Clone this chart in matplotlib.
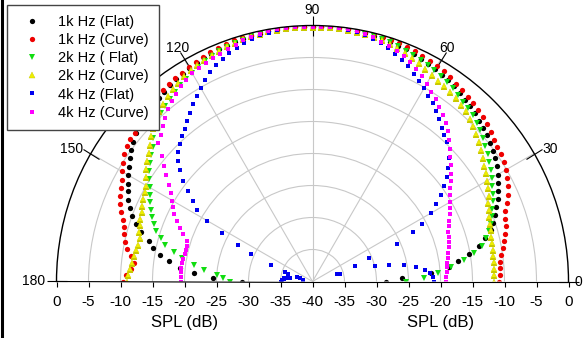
import numpy as np
import matplotlib
matplotlib.use("Agg")
import matplotlib.pyplot as plt
from matplotlib.lines import Line2D

plt.rcParams["font.family"] = ["Liberation Sans", "DejaVu Sans"]

# angle grid (deg), one reading every 2 degrees
angles = np.arange(0, 181, 2)

spl_1k_flat = [
    -28.5, -26.0, -21.5, -18.5, -17.0, -15.2, -13.4, -12.2, -11.0, -10.3,
    -9.7, -9.0, -8.3, -7.7, -7.2, -6.6, -6.0, -5.6, -5.2, -4.8,
    -4.4, -4.1, -3.8, -3.5, -3.2, -2.9, -2.6, -2.3, -2.1, -1.9,
    -1.7, -1.5, -1.3, -1.1, -0.9, -0.8, -0.6, -0.5, -0.4, -0.3,
    -0.3, -0.2, -0.2, -0.2, -0.2, -0.2, -0.2, -0.2, -0.2, -0.3,
    -0.3, -0.4, -0.5, -0.6, -0.7, -0.8, -0.9, -1.1, -1.2, -1.4,
    -1.5, -1.7, -1.9, -2.1, -2.4, -2.6, -2.9, -3.1, -3.4, -3.7,
    -4.0, -4.5, -5.0, -5.6, -6.2, -6.8, -7.4, -7.9, -8.5, -9.2,
    -10.0, -11.0, -12.2, -13.6, -14.5, -15.8, -17.3, -19.2, -21.5, -24.5,
    -29.0,
]
spl_1k_curve = [
    -10.8, -10.7, -10.6, -10.5, -10.2, -9.8, -9.4, -9.0, -8.6, -8.3,
    -8.0, -7.3, -6.6, -6.0, -5.5, -5.1, -4.8, -4.5, -4.3, -4.0,
    -3.6, -3.3, -3.0, -2.7, -2.5, -2.3, -2.0, -1.8, -1.5, -1.3,
    -1.1, -0.9, -0.8, -0.6, -0.5, -0.4, -0.3, -0.3, -0.2, -0.2,
    -0.2, -0.2, -0.2, -0.2, -0.2, -0.2, -0.2, -0.2, -0.2, -0.2,
    -0.2, -0.2, -0.3, -0.3, -0.4, -0.5, -0.6, -0.8, -0.9, -1.1,
    -1.3, -1.5, -1.7, -1.9, -2.1, -2.3, -2.7, -3.0, -3.3, -3.6,
    -3.8, -3.9, -4.1, -4.5, -5.0, -5.6, -6.2, -6.7, -7.1, -7.6,
    -8.2, -8.8, -9.3, -9.6, -10.0, -10.6, -11.3, -11.9, -11.6, -10.8,
    -10.4,
]
spl_2k_flat = [
    -25.4, -22.5, -20.4, -18.2, -16.1, -14.3, -13.0, -12.0, -11.3, -10.7,
    -10.2, -9.7, -9.2, -8.7, -8.2, -7.7, -7.2, -6.7, -6.2, -5.7,
    -5.2, -4.7, -4.3, -3.9, -3.6, -3.3, -3.0, -2.7, -2.4, -2.2,
    -1.9, -1.7, -1.5, -1.3, -1.1, -0.9, -0.7, -0.6, -0.5, -0.4,
    -0.3, -0.2, -0.2, -0.2, -0.2, -0.2, -0.2, -0.2, -0.2, -0.2,
    -0.3, -0.4, -0.5, -0.7, -0.8, -1.0, -1.2, -1.4, -1.7, -2.0,
    -2.3, -2.6, -3.0, -3.4, -3.8, -4.2, -4.6, -5.1, -5.8, -6.5,
    -7.4, -8.0, -8.6, -9.2, -9.9, -10.6, -11.2, -11.8, -12.4, -13.0,
    -13.6, -14.3, -15.3, -16.2, -17.8, -19.3, -21.3, -23.0, -25.0, -26.0,
    -27.1,
]
spl_2k_curve = [
    -11.6, -11.6, -11.6, -11.5, -11.5, -11.4, -11.3, -11.2, -11.0, -10.8,
    -10.6, -10.3, -9.9, -9.4, -9.0, -8.6, -8.1, -7.6, -7.1, -6.6,
    -6.1, -5.6, -5.1, -4.6, -4.2, -3.9, -3.6, -3.4, -3.2, -3.0,
    -2.7, -2.4, -2.1, -1.8, -1.5, -1.2, -1.0, -0.8, -0.6, -0.5,
    -0.4, -0.3, -0.2, -0.2, -0.2, -0.2, -0.2, -0.2, -0.2, -0.3,
    -0.3, -0.4, -0.5, -0.6, -0.8, -0.9, -1.1, -1.3, -1.5, -1.7,
    -1.9, -2.2, -2.5, -2.9, -3.3, -3.7, -4.2, -4.8, -5.4, -6.1,
    -6.8, -7.5, -8.1, -8.7, -9.3, -10.0, -10.3, -10.6, -10.9, -11.2,
    -11.4, -11.6, -11.8, -12.2, -12.2, -12.0, -11.8, -11.6, -11.4, -11.2,
    -11.0,
]
spl_4k_flat = [
    -21.0, -21.2, -21.6, -22.4, -23.6, -25.5, -27.8, -30.0, -35.5, -36.0,
    -33.0, -30.4, -25.5, -22.5, -20.7, -18.7, -17.2, -15.8, -14.6, -13.4,
    -12.3, -11.2, -10.2, -9.7, -9.2, -8.6, -7.8, -7.1, -6.4, -5.8,
    -5.1, -4.6, -3.9, -3.2, -2.6, -2.1, -1.7, -1.3, -0.9, -0.6,
    -0.4, -0.3, -0.2, -0.2, -0.2, -0.2, -0.2, -0.2, -0.2, -0.3,
    -0.5, -0.7, -1.0, -1.3, -1.6, -2.0, -2.5, -3.0, -3.6, -4.3,
    -5.0, -5.8, -6.6, -7.4, -8.2, -8.9, -9.5, -10.1, -10.8, -11.8,
    -13.0, -14.4, -16.0, -17.5, -18.8, -21.0, -24.0, -27.0, -29.5, -33.0,
    -35.5, -36.0, -37.5, -38.0, -38.5, -36.5, -36.0, -35.5, -35.5, -35.2,
    -35.0,
]
spl_4k_curve = [
    -19.1, -19.1, -19.0, -18.9, -18.7, -18.5, -18.3, -18.0, -17.8, -17.6,
    -17.4, -17.0, -16.6, -16.1, -15.6, -15.2, -14.6, -14.0, -13.3, -12.6,
    -11.8, -11.0, -10.1, -9.2, -8.4, -7.6, -6.9, -6.3, -5.6, -5.0,
    -4.3, -3.6, -3.0, -2.5, -2.0, -1.6, -1.3, -1.0, -0.7, -0.5,
    -0.3, -0.2, -0.2, -0.2, -0.2, -0.2, -0.2, -0.2, -0.2, -0.2,
    -0.3, -0.4, -0.6, -0.8, -1.1, -1.4, -1.6, -1.8, -2.0, -2.2,
    -2.4, -2.8, -3.2, -3.8, -4.3, -4.8, -5.6, -6.3, -7.0, -7.6,
    -9.4, -10.6, -11.8, -13.0, -14.0, -14.7, -15.3, -16.0, -16.8, -17.6,
    -18.5, -19.3, -19.6, -19.6, -19.6, -19.5, -19.4, -19.4, -19.4, -19.4,
    -19.4,
]

labels = ["1k Hz (Flat)", "1k Hz (Curve)", "2k Hz ( Flat)",
          "2k Hz (Curve)", "4k Hz (Flat)", "4k Hz (Curve)"]
theta_ticks = [0, 30, 60, 90, 120, 150, 180]

W, H = 584, 338
fig = plt.figure(figsize=(W / 100, H / 100), dpi=100)

# polar half disc: centre (312.5, 281.5) px, radius 256 px
# (the wedge is fitted into a square box and centred vertically)
cx, cy, R = 312.5, 281.5, 256
ax = fig.add_axes([(cx - R) / W, (H - (cy - R / 2) - R) / H, 2 * R / W, 2 * R / H],
                  projection="polar")
ax.set_thetamin(0)
ax.set_thetamax(180)
ax.set_rlim(-40, 0)
ax.set_rticks([-35, -30, -25, -20, -15, -10, -5])
ax.set_yticklabels([])
ax.set_thetagrids(theta_ticks, [""] * len(theta_ticks))
ax.grid(True, color="#c8c8c8", linewidth=0.8)
ax.spines["polar"].set_color("black")
ax.spines["polar"].set_linewidth(1.0)
ax.spines["start"].set_visible(False)
ax.spines["end"].set_visible(False)
ax.spines["inner"].set_visible(False)
ax.tick_params(axis="x", bottom=False, top=True, direction="inout",
               length=7, width=0.8)

# angle labels placed just outside the arc (r > 0 dB)
lab_style = {0: (1.0, "left", "center"), 30: (1.4, "left", "center"),
             60: (2.1, "center", "center"), 90: (2.4, "center", "center"),
             120: (2.1, "center", "center"), 150: (1.4, "right", "center"),
             180: (1.8, "right", "center")}
for a in theta_ticks:
    dr, ha, va = lab_style[a]
    ax.text(np.deg2rad(a), dr, str(a), ha=ha, va=va, fontsize=10, clip_on=False)

th = np.deg2rad(angles)
ax.plot(th, spl_1k_flat, "o", color="black", ms=3.8, mew=0, label=labels[0])
ax.plot(th, spl_1k_curve, "o", color="#ee0000", ms=3.8, mew=0, label=labels[1])
ax.plot(th, spl_2k_flat, "v", color="#11dd11", ms=4.6, mew=0, label=labels[2])
ax.plot(th, spl_2k_curve, "^", color="#eeee00", ms=4.6, mew=0.3, mec="#c8c800",
        label=labels[3])
ax.plot(th, spl_4k_flat, "s", color="#0000ee", ms=3.5, mew=0, label=labels[4])
ax.plot(th, spl_4k_curve, "s", color="#ff00ff", ms=3.5, mew=0, label=labels[5])

# linear SPL axis along the baseline
ax2 = fig.add_axes([(cx - R) / W, (H - cy) / H, 2 * R / W, 0.0001])
ax2.set_xlim(-40, 40)
pos = list(range(-40, 41, 5))
ax2.set_xticks(pos)
ax2.set_xticklabels([str(abs(p) - 40) for p in pos])
ax2.set_yticks([])
for s in ax2.spines.values():
    s.set_visible(False)
ax2.patch.set_visible(False)
ax2.tick_params(axis="x", direction="out", length=3.5, width=0.8, pad=6,
                labelsize=11)

fig.text(184.5 / W, 1 - 323 / H, "SPL (dB)", ha="center", va="center", fontsize=12)
fig.text(440.5 / W, 1 - 323 / H, "SPL (dB)", ha="center", va="center", fontsize=12)

leg = fig.legend(loc="upper left", bbox_to_anchor=(7 / W, 1 - 5 / H),
                 borderaxespad=0, fontsize=10.5, numpoints=1, fancybox=False,
                 framealpha=1, edgecolor="#444444", borderpad=0.7,
                 labelspacing=0.28, handlelength=2.0, handletextpad=0.8,
                 markerscale=1.0)
leg.get_frame().set_linewidth(1.0)

# dark left edge of the original picture
fig.add_artist(Line2D([1.5 / W, 1.5 / W], [0, 1], transform=fig.transFigure,
                      color="black", linewidth=2.2))

fig.savefig("out.png", dpi=100)
